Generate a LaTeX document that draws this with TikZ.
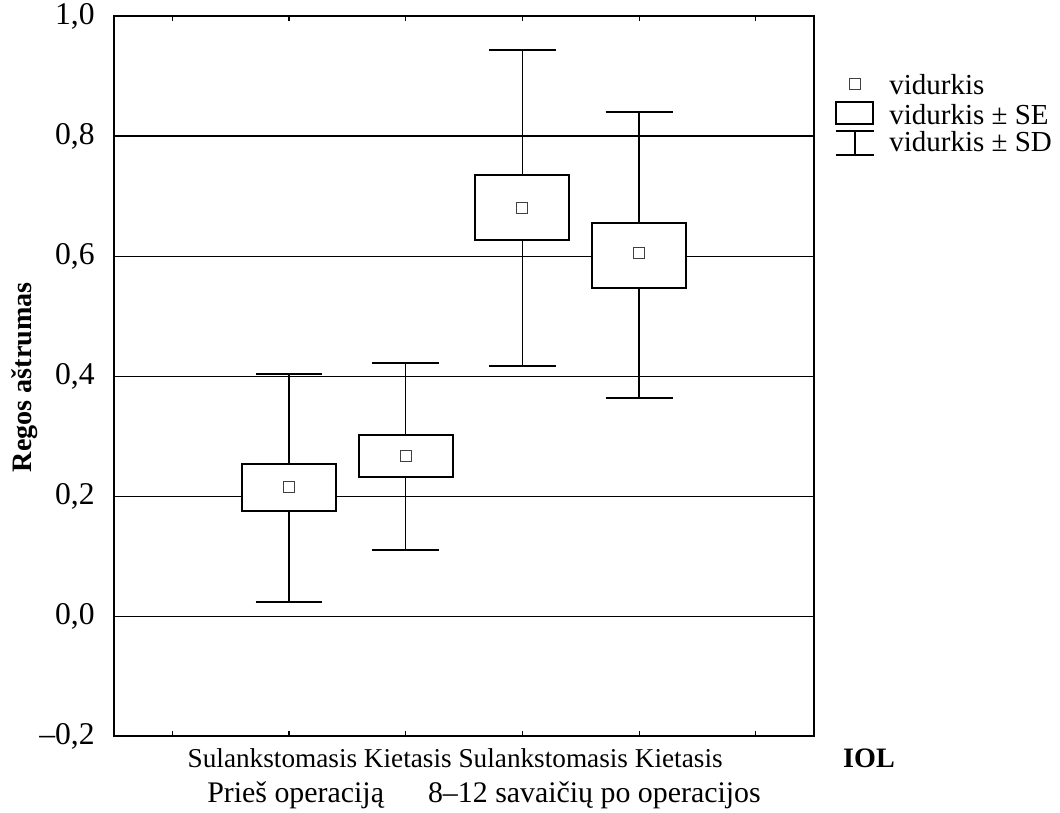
\documentclass[tikz,border=0pt]{standalone}
\usepackage{fontspec}
\setmainfont{Liberation Serif}
\tikzset{
  ticklabel/.style={anchor=east, inner sep=0pt, font=\fontsize{18}{21}\selectfont},
  axistitle/.style={inner sep=0pt, font=\bfseries\fontsize{16}{19}\selectfont},
  grouplabel/.style={anchor=base, inner sep=0pt, font=\fontsize{15.5}{18}\selectfont},
  periodlabel/.style={inner sep=0pt, font=\fontsize{17}{20}\selectfont},
  legendtext/.style={anchor=west, inner sep=0pt, font=\fontsize{16.5}{19}\selectfont},
  meanmark/.style={draw=black!75, line width=0.5pt, fill=white, minimum size=0.22cm, inner sep=0pt},
  whisker/.style={line width=0.8pt},
  capline/.style={line width=1.1pt},
  sebox/.style={line width=1.1pt, fill=white},
  gridline/.style={line width=0.6pt}
}
\begin{document}
\begin{tikzpicture}[x=2.3333cm, y=12cm, line join=miter]
\useasboundingbox (-0.477,-0.3267) rectangle (8.608,1.0267);
\def\bw{0.403} \def\cw{0.287}
% grid and ticks
\foreach \yv in {0,0.2,0.4,0.6,0.8}
  \draw[gridline] (0.5,\yv)--(6.5,\yv);
\foreach \xv in {1,...,6} {
  \draw[gridline] (\xv,-0.2)--(\xv,-0.1917);
  \draw[gridline] (\xv,1)--(\xv,0.9917);
}
\foreach \yv/\lab [count=\i] in {1/{1,0},0.8/{0,8},0.6/{0,6},0.4/{0,4},0.2/{0,2},0/{0,0},-0.2/{--0,2}}
  \node[ticklabel] (tick\i) at (0.337,\yv) {\lab};
% boxes: x / low / SE low / mean / SE high / high
\foreach \xc/\lo/\qa/\mu/\qb/\hi [count=\i] in {2/0.023/0.175/0.215/0.253/0.403,
    3/0.11/0.232/0.267/0.302/0.422, 4/0.417/0.627/0.68/0.735/0.943,
    5/0.363/0.547/0.605/0.655/0.84} {
  \draw[whisker] (\xc,\lo)--(\xc,\hi);
  \draw[capline] (\xc-\cw,\lo)--(\xc+\cw,\lo) (\xc-\cw,\hi)--(\xc+\cw,\hi);
  \draw[sebox] (\xc-\bw,\qa) rectangle (\xc+\bw,\qb);
  \node[meanmark] (mean\i) at (\xc,\mu) {};
}
\draw[line width=1.1pt] (0.5,-0.2) rectangle (6.5,1);
% legend
\node[meanmark] (legmean) at (6.851,0.887) {};
\draw[sebox] (6.688,0.82) rectangle (7.005,0.857);
\draw[capline] (6.688,0.808)--(7.014,0.808) (6.688,0.768)--(7.014,0.768);
\draw[whisker] (6.851,0.808)--(6.851,0.768);
\node[legendtext] (legA) at (7.142,0.885) {vidurkis};
\node[legendtext] (legB) at (7.142,0.835) {vidurkis ± SE};
\node[legendtext] (legC) at (7.142,0.79) {vidurkis ± SD};
% axis titles
\node[axistitle, rotate=90] (ytitle) at (-0.263,0.398) {Regos aštrumas};
\node[axistitle, anchor=base] (iol) at (6.971,-0.2517) {IOL};
\node[grouplabel] (lenses) at (3.424,-0.2517) {Sulankstomasis Kietasis Sulankstomasis Kietasis};
\node[periodlabel, anchor=base west] (before) at (1.297,-0.31) {Prieš operaciją};
\node[periodlabel, anchor=base east] (after) at (6.046,-0.31) {8–12 savaičių po operacijos};
\end{tikzpicture}
\end{document}
